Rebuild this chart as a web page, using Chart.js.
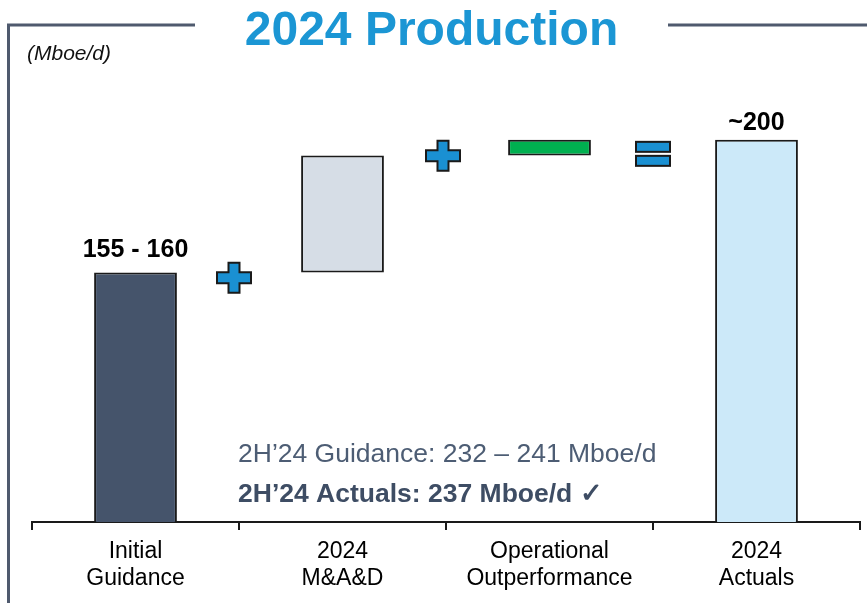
<!DOCTYPE html>
<html>
<head>
<meta charset="utf-8">
<script src="https://cdn.jsdelivr.net/npm/chart.js@4.4.1/dist/chart.umd.min.js"></script>
<style>
  html, body { margin: 0; padding: 0; background: #ffffff; }
  canvas { display: block; }
</style>
</head>
<body>
<canvas id="chart" width="867" height="603"></canvas>
<script>
// Production bridge, Mboe/d
const categories = [['Initial', 'Guidance'], ['2024', 'M&A&D'], ['Operational', 'Outperformance'], ['2024', 'Actuals']];
const barFrom = [null, 157.5, 195, null];     // floating steps start here; totals rise from the axis
const barTo = [157.5, 195, 200, 200];
const barLabels = ['155 - 160', '', '', '~200'];
const operators = ['+', '+', '='];             // signs between neighbouring columns
const operatorLevels = [155.75, 194.9, 195.5];
const noteLines = ['2H\u201924 Guidance: 232 \u2013 241 Mboe/d', '2H\u201924 Actuals: 237 Mboe/d \u2713'];
const chartTitle = '2024 Production';
const unitLabel = '(Mboe/d)';

const barColors = ['#45546b', '#d6dde6', '#00b050', '#cce9f9'];
const FONT = '"Liberation Sans", Arial, Helvetica, sans-serif';
const SIGN_BLUE = '#1a90d2';
const FRAME = '#4f5a6e';
const LABEL_GAP = [15, 0, 0, 10];      // px between a bar top and its label baseline
const SIGN_NUDGE = [-5, -3, 0];        // px shift of each sign from the category boundary

const data = barTo.map((v, i) => barFrom[i] === null ? v : [barFrom[i], v]);

function drawPlus(ctx, cx, cy) {
  const w = 34, h = 30, t = 11;
  ctx.beginPath();
  ctx.moveTo(cx - t / 2, cy - h / 2);
  ctx.lineTo(cx + t / 2, cy - h / 2);
  ctx.lineTo(cx + t / 2, cy - t / 2);
  ctx.lineTo(cx + w / 2, cy - t / 2);
  ctx.lineTo(cx + w / 2, cy + t / 2);
  ctx.lineTo(cx + t / 2, cy + t / 2);
  ctx.lineTo(cx + t / 2, cy + h / 2);
  ctx.lineTo(cx - t / 2, cy + h / 2);
  ctx.lineTo(cx - t / 2, cy + t / 2);
  ctx.lineTo(cx - w / 2, cy + t / 2);
  ctx.lineTo(cx - w / 2, cy - t / 2);
  ctx.lineTo(cx - t / 2, cy - t / 2);
  ctx.closePath();
  ctx.fillStyle = SIGN_BLUE;
  ctx.fill();
  ctx.lineWidth = 2;
  ctx.strokeStyle = '#1a1a1a';
  ctx.stroke();
}

function drawEquals(ctx, cx, cy) {
  const w = 34, t = 10, gap = 4;
  ctx.fillStyle = SIGN_BLUE;
  ctx.strokeStyle = '#1a1a1a';
  ctx.lineWidth = 2;
  [cy - gap / 2 - t, cy + gap / 2].forEach(top => {
    ctx.fillRect(cx - w / 2, top, w, t);
    ctx.strokeRect(cx - w / 2, top, w, t);
  });
}

const decorations = {
  id: 'decorations',
  afterDraw(chart) {
    const ctx = chart.ctx;
    const xs = chart.scales.x, ys = chart.scales.y;
    ctx.save();

    // frame around the title
    ctx.strokeStyle = FRAME;
    ctx.lineWidth = 3;
    ctx.beginPath();
    ctx.moveTo(8.5, 603);
    ctx.lineTo(8.5, 25);
    ctx.lineTo(195, 25);
    ctx.moveTo(668, 25);
    ctx.lineTo(867, 25);
    ctx.stroke();

    // title
    ctx.fillStyle = '#1b96d4';
    ctx.font = 'bold 48px ' + FONT;
    ctx.textAlign = 'center';
    ctx.textBaseline = 'alphabetic';
    ctx.fillText(chartTitle, 431.5, 45);

    // unit
    ctx.fillStyle = '#111111';
    ctx.font = 'italic 21px ' + FONT;
    ctx.textAlign = 'left';
    ctx.fillText(unitLabel, 27, 60);

    // value labels above bars
    const meta = chart.getDatasetMeta(0);
    ctx.fillStyle = '#000000';
    ctx.font = 'bold 25px ' + FONT;
    ctx.textAlign = 'center';
    barLabels.forEach((txt, i) => {
      if (!txt) return;
      const el = meta.data[i];
      ctx.fillText(txt, el.x, el.y - LABEL_GAP[i]);
    });

    // operators between columns
    operators.forEach((op, i) => {
      const cx = xs.getPixelForValue(i + 0.5) + SIGN_NUDGE[i];
      const cy = ys.getPixelForValue(operatorLevels[i]);
      if (op === '+') drawPlus(ctx, cx, cy); else drawEquals(ctx, cx, cy);
    });

    // notes
    const left = xs.getPixelForValue(0.5) - 1;
    ctx.textAlign = 'left';
    ctx.fillStyle = '#4d5d74';
    ctx.font = '26.5px ' + FONT;
    ctx.fillText(noteLines[0], left, 462);
    ctx.fillStyle = '#3e4d64';
    ctx.font = 'bold 26.5px ' + FONT;
    ctx.fillText(noteLines[1], left, 502);

    ctx.restore();
  }
};

new Chart(document.getElementById('chart'), {
  type: 'bar',
  data: {
    labels: categories,
    datasets: [{
      data: data,
      backgroundColor: barColors,
      borderColor: '#1a1a1a',
      borderWidth: 2,
      borderSkipped: false,
      barPercentage: 0.4,
      categoryPercentage: 1.0
    }]
  },
  options: {
    responsive: false,
    animation: false,
    devicePixelRatio: 1,
    layout: { padding: { top: 93, left: 32, right: 7, bottom: 0 } },
    plugins: {
      legend: { display: false },
      tooltip: { enabled: false },
      title: { display: false }
    },
    scales: {
      y: { display: false, min: 77.5, max: 215 },
      x: {
        offset: true,
        afterFit(scale) { scale.height = 81; },
        grid: {
          offset: true,
          drawOnChartArea: false,
          drawTicks: true,
          tickLength: 8,
          color: '#1a1a1a',
          lineWidth: 2
        },
        border: { display: true, color: '#1a1a1a', width: 2 },
        ticks: {
          color: '#000000',
          padding: 8,
          maxRotation: 0,
          autoSkip: false,
          font: { family: FONT, size: 23, lineHeight: 1.17 }
        }
      }
    }
  },
  plugins: [decorations]
});
</script>
</body>
</html>
